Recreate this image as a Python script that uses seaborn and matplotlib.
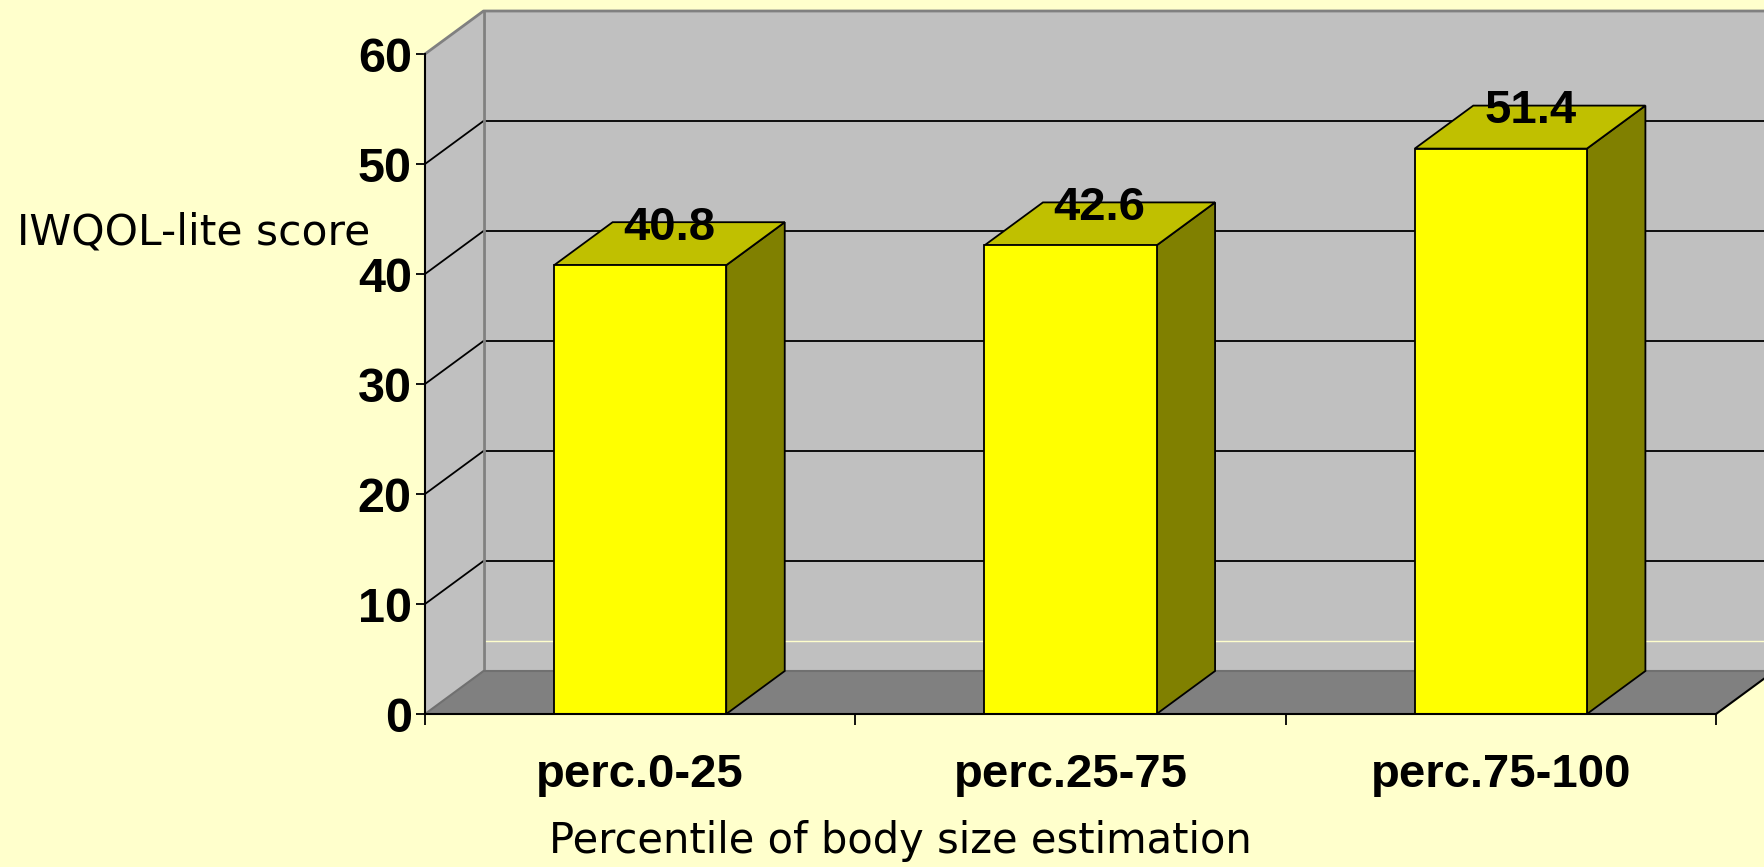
import matplotlib
matplotlib.use("Agg")
import matplotlib.pyplot as plt
from matplotlib.patches import Polygon
import seaborn as sns
import pandas as pd

categories = ["perc.0-25", "perc.25-75", "perc.75-100"]
scores = [40.8, 42.6, 51.4]
yticks = [0, 10, 20, 30, 40, 50, 60]
ylabel = "IWQOL-lite score"
xlabel = "Percentile of body size estimation"

BG = "#FFFFCC"
WALL = "#C0C0C0"
FLOOR = "#808080"
FRONT = "#FFFF00"
TOP = "#C0C000"
SIDE = "#808000"

sns.set_theme(style="white")
plt.rcParams["font.family"] = ["Liberation Sans", "DejaVu Sans"]
plt.rcParams["text.color"] = "black"
plt.rcParams["xtick.color"] = "black"
plt.rcParams["ytick.color"] = "black"

fig = plt.figure(figsize=(17.64, 8.67), dpi=100, facecolor=BG)
ax = fig.add_axes([425/1764, 1-714/867, (1716-425)/1764, (714-54)/867])
ax.set_facecolor("none")

df = pd.DataFrame({"cat": categories, "score": scores})
XMIN, XMAX = -0.5, len(categories) - 0.5
YMAX = yticks[-1]
DX = 58.5 / ((1716 - 425) / (XMAX - XMIN))
DY = 43 / ((714 - 54) / YMAX)

# back wall, left wall, floor
ax.add_patch(Polygon([(XMIN+DX, DY), (XMAX+DX+1, DY), (XMAX+DX+1, YMAX+DY), (XMIN+DX, YMAX+DY)],
                     closed=True, facecolor=WALL, edgecolor="none", zorder=0.5, clip_on=False))
ax.add_patch(Polygon([(XMIN, 0), (XMIN+DX, DY), (XMIN+DX, YMAX+DY), (XMIN, YMAX)],
                     closed=True, facecolor=WALL, edgecolor="none", zorder=0.5, clip_on=False))
ax.add_patch(Polygon([(XMIN, 0), (XMAX, 0), (XMAX+DX, DY), (XMIN+DX, DY)],
                     closed=True, facecolor=FLOOR, edgecolor="none", zorder=0.7, clip_on=False))

# gridlines
for v in yticks[1:-1]:
    ax.plot([XMIN+DX, XMAX+DX+1], [v+DY, v+DY], color="black", lw=1.3, zorder=0.6, clip_on=False)
    ax.plot([XMIN, XMIN+DX], [v, v+DY], color="black", lw=1.3, zorder=0.6, clip_on=False)
# wall outline (grey)
ax.plot([XMIN, XMIN+DX, XMAX+DX+1], [YMAX, YMAX+DY, YMAX+DY], color="#808080", lw=2, zorder=0.65, clip_on=False)
ax.plot([XMIN+DX, XMIN+DX], [DY, YMAX+DY], color="#808080", lw=2, zorder=0.65, clip_on=False)
ax.plot([XMIN, XMIN+DX, XMAX+DX+1], [0, DY, DY], color="#707070", lw=1.5, zorder=0.75, clip_on=False)
# faint light line on back wall
ax.plot([XMIN+DX, XMAX+DX+1], [6.6, 6.6], color="#FFFFCC", lw=1, zorder=0.62, clip_on=False)
# floor right edge
ax.plot([XMAX, XMAX+DX], [0, DY], color="black", lw=1.5, zorder=0.8, clip_on=False)

sns.barplot(data=df, x="cat", y="score", color=FRONT, saturation=1, width=0.4,
            edgecolor="black", linewidth=1.3, ax=ax, zorder=2)

bars = list(ax.containers[0])
for p, v in zip(bars, scores):
    x0 = p.get_x()
    x1 = x0 + p.get_width()
    h = p.get_height()
    ax.add_patch(Polygon([(x1, 0), (x1+DX, DY), (x1+DX, h+DY), (x1, h)], closed=True,
                         facecolor=SIDE, edgecolor="black", lw=1.3, zorder=1.9, clip_on=False))
    ax.add_patch(Polygon([(x0, h), (x1, h), (x1+DX, h+DY), (x0+DX, h+DY)], closed=True,
                         facecolor=TOP, edgecolor="black", lw=1.3, zorder=1.9, clip_on=False))
    ax.text(x0 + p.get_width()/2 + DX/2, h + 3.4, f"{v:.1f}", ha="center", va="center",
            fontsize=34, fontweight="bold", color="black", zorder=3)

ax.set_xlim(XMIN, XMAX)
ax.set_ylim(0, YMAX)
ax.set_yticks(yticks)
ax.set_yticklabels([str(t) for t in yticks], fontsize=35, fontweight="bold")
ax.set_xticks(range(len(categories)))
ax.set_xticklabels(categories, fontsize=34, fontweight="bold")
ax.set_xticks([XMIN + i for i in range(len(categories)+1)], minor=True)
ax.tick_params(axis="x", which="major", length=0, pad=28, labelcolor="black")
ax.tick_params(axis="x", which="minor", length=8, width=1.3, color="black", direction="out", bottom=True)
ax.tick_params(axis="y", length=6.5, width=1.3, color="black", direction="out", left=True, pad=3,
               labelcolor="black")
ax.set_xlabel("")
ax.set_ylabel("")
for s in ["top", "right"]:
    ax.spines[s].set_visible(False)
for s in ["left", "bottom"]:
    ax.spines[s].set_color("black")
    ax.spines[s].set_linewidth(1.5)
    ax.spines[s].set_zorder(2.5)

fig.text(17/1764, 1-233/867, ylabel, fontsize=30.5, family=["DejaVu Sans"], ha="left", va="center",
         color="black")
fig.text(900/1764, 1-841/867, xlabel, fontsize=30, family=["DejaVu Sans"], ha="center", va="center",
         color="black")

fig.savefig("out.png", dpi=100, facecolor=BG)
